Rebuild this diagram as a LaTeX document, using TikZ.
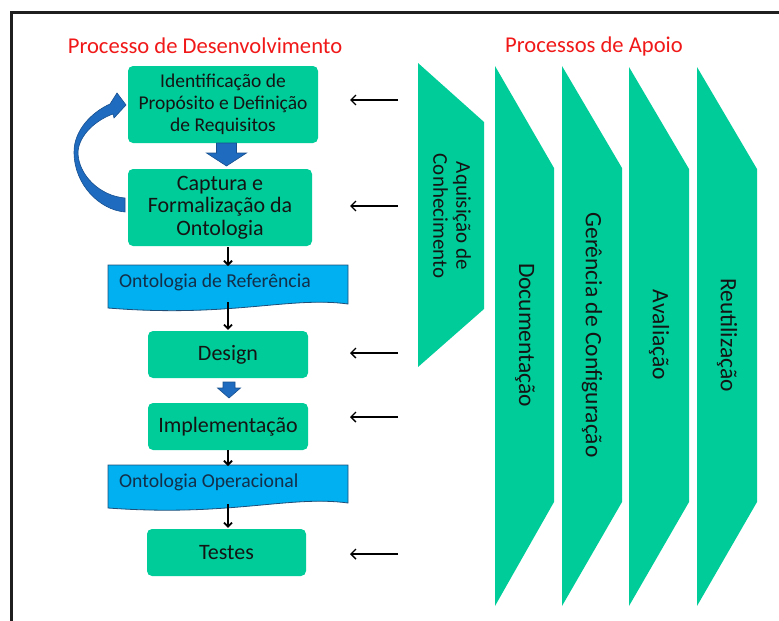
\documentclass[tikz,border=0pt]{standalone}
\usepackage{fontspec}
\setmainfont{Carlito}
\usetikzlibrary{arrows.meta}
\definecolor{gfill}{HTML}{00CC99}
\definecolor{dfill}{HTML}{00B0F0}
\definecolor{dline}{HTML}{1F4E79}
\definecolor{barrow}{HTML}{1F6BBF}
\definecolor{barrowd}{HTML}{17508F}
\definecolor{ttlred}{HTML}{F01818}
\definecolor{txt}{HTML}{141414}
\tikzset{
  gbox/.style={fill=gfill, rounded corners=5pt, inner sep=0pt, align=center, text=txt},
  docshape/.style={fill=dfill, draw=dline, line width=0.8pt},
  doctext/.style={anchor=west, inner sep=0pt, text=dline!60!black, font=\fontsize{19.7}{22}\selectfont},
  sup/.style={fill=gfill},
  suptext/.style={rotate=-90, inner sep=0pt, align=center, text=txt},
  ttl/.style={text=ttlred, font=\fontsize{22.6}{26}\selectfont, inner sep=0pt},
  flowarrow/.style={line width=1.8pt, -{Straight Barb[length=4pt,width=8pt,line width=1.8pt]}},
  inarrow/.style={line width=1.4pt, -{Straight Barb[length=5pt,width=10pt,line width=1.4pt]}},
  blockarrow/.style={fill=barrow, draw=barrowd, line width=0.6pt}
}
\begin{document}
\begin{tikzpicture}[x=1pt,y=-1pt]
\useasboundingbox (0,0) rectangle (779,621);
% frame
\draw[line width=3pt, color=black!88] (11.5,621) -- (11.5,12) -- (779,12);

% titles
\node[ttl] (t1) at (205,46) {Processo de Desenvolvimento};
\node[ttl] (t2) at (594,46) {Processos de Apoio};

% support shapes
\path[sup] (418,63) -- (484,122) -- (484,309) -- (418,367) -- cycle;
\path[sup] (495,66) -- (554,168) -- (554,502) -- (495,606) -- cycle;
\path[sup] (562,66) -- (622,168) -- (622,502) -- (562,606) -- cycle;
\path[sup] (629,67) -- (689,169) -- (689,502) -- (629,606) -- cycle;
\path[sup] (697,67) -- (757,169) -- (757,502) -- (697,606) -- cycle;
\node[suptext, font=\fontsize{21}{23}\selectfont] (s1) at (452,216) {Aquisição de\\Conhecimento};
\node[suptext, font=\fontsize{23.5}{26}\selectfont] (s2) at (525,335) {Documentação};
\node[suptext, font=\fontsize{23.5}{26}\selectfont] (s3) at (592,335) {Gerência de Configuração};
\node[suptext, font=\fontsize{23.5}{26}\selectfont] (s4) at (659,335) {Avaliação};
\node[suptext, font=\fontsize{23.5}{26}\selectfont] (s5) at (727,335) {Reutilização};

% development boxes
\node[gbox, minimum width=190pt, minimum height=77pt, font=\fontsize{19.5}{22}\selectfont] (b1) at (223,104.5) {Identificação de\\Propósito e Definição\\de Requisitos};
\node[gbox, minimum width=184pt, minimum height=77pt, font=\fontsize{22}{22.5}\selectfont] (b2) at (220,207.5) {Captura e\\Formalização da\\Ontologia};
\node[gbox, minimum width=160pt, minimum height=47pt, font=\fontsize{22}{24}\selectfont] (b3) at (228,354.5) {Design};
\node[gbox, minimum width=160pt, minimum height=47pt, font=\fontsize{22}{24}\selectfont] (b4) at (228,426.5) {Implementação};
\node[gbox, minimum width=159pt, minimum height=47pt, font=\fontsize{22}{24}\selectfont] (b5) at (226.5,552.5) {Testes};

% documents
\draw[docshape] (108,265) -- (348,265) -- (348,304) .. controls (290,296) and (230,318) .. (108,308) -- cycle;
\node[doctext] (d1) at (119,282) {Ontologia de Referência};
\coordinate (d1t) at (228,265);
\coordinate (d1b) at (228,308);
\draw[docshape] (108,465) -- (348,465) -- (348,503) .. controls (290,495) and (230,517) .. (108,508) -- cycle;
\node[doctext] (d2) at (119,482) {Ontologia Operacional};
\coordinate (d2t) at (228,465);
\coordinate (d2b) at (228,508);

% flow arrows
\draw[flowarrow] (b2.south -| d1t) ++(0,1) -- ([yshift=-1pt]d1t);
\draw[flowarrow] ([yshift=6pt]d1b) -- ([yshift=1pt]b3.north);
\draw[flowarrow] (b4.south) -- ([yshift=-1pt]d2t);
\draw[flowarrow] ([yshift=4pt]d2b) -- ([yshift=1pt]b5.north -| d2b);

% blue block arrows
\path[blockarrow] (216.5,143) -- (236.5,143) -- (236.5,153) -- (246.5,153) -- (226.5,166) -- (206.5,153) -- (216.5,153) -- cycle;
\path[blockarrow] (223,382) -- (235,382) -- (235,388) -- (240.5,388) -- (229,398) -- (217.5,388) -- (223,388) -- cycle;

% curved loop arrow
\path[blockarrow] (125,212) .. controls (100,210) and (74,185) .. (74,152)
  .. controls (74,130) and (92,112) .. (110,104)
  -- (117,93) -- (126,105) -- (114,118) -- (113,114)
  .. controls (96,120) and (79,135) .. (78,152)
  .. controls (78,175) and (100,196) .. (125,198) -- cycle;

% input arrows from support processes
\coordinate (i1) at (398,100); \coordinate (o1) at (350,100);
\coordinate (i2) at (398,206); \coordinate (o2) at (350,206);
\coordinate (i3) at (398,353); \coordinate (o3) at (350,353);
\coordinate (i4) at (398,417); \coordinate (o4) at (350,417);
\coordinate (i5) at (398,554); \coordinate (o5) at (350,554);
\foreach \k in {1,...,5} {\draw[inarrow] (i\k) -- (o\k);}
\end{tikzpicture}
\end{document}
